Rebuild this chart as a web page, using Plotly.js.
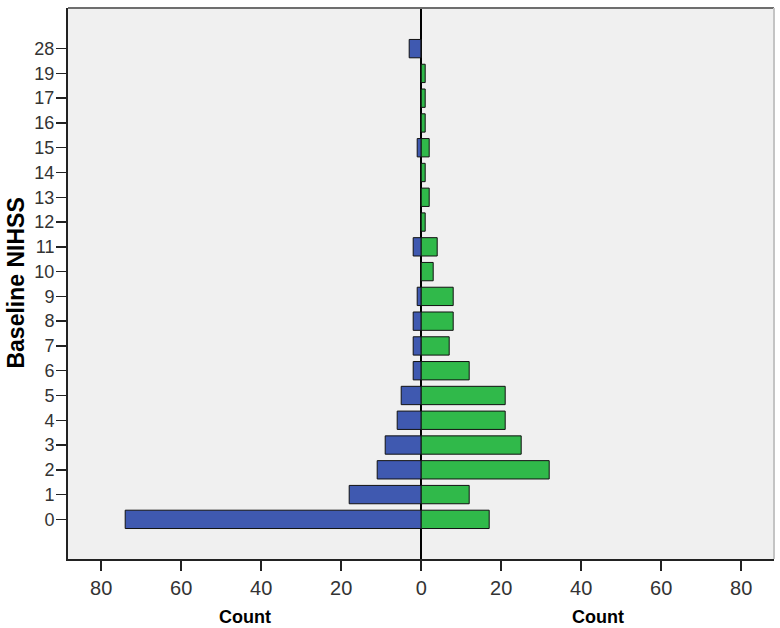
<!DOCTYPE html>
<html>
<head>
<meta charset="utf-8">
<script src="https://cdn.plot.ly/plotly-3.0.1.min.js"></script>
<style>
  body { margin: 0; background: #fff; }
  #chart { width: 780px; height: 628px; }
</style>
</head>
<body>
<div id="chart"></div>
<script>
// Baseline NIHSS categories, bottom to top
const nihss = ['0', '1', '2', '3', '4', '5', '6', '7', '8', '9', '10', '11', '12', '13', '14', '15', '16', '17', '19', '28'];
// counts for the left (blue) half
const leftCounts = [74, 18, 11, 9, 6, 5, 2, 2, 2, 1, 0, 2, 0, 0, 0, 1, 0, 0, 0, 3];
// counts for the right (green) half
const rightCounts = [17, 12, 32, 25, 21, 21, 12, 7, 8, 8, 3, 4, 1, 2, 1, 2, 1, 1, 1, 0];
// x tick labels (both halves show absolute counts)
const countTicks = [-80, -60, -40, -20, 0, 20, 40, 60, 80];
const countTickText = ['80', '60', '40', '20', '0', '20', '40', '60', '80'];

const barLine = { color: '#111', width: 1 };
const sans = 'Liberation Sans, Arial, sans-serif';

const data = [
    {
        type: 'bar',
        orientation: 'h',
        y: nihss,
        x: leftCounts.map(v => -v),
        width: 0.74,
        marker: { color: '#3f59b0', line: barLine },
        hoverinfo: 'skip'
    },
    {
        type: 'bar',
        orientation: 'h',
        y: nihss,
        x: rightCounts,
        width: 0.74,
        marker: { color: '#30b94a', line: barLine },
        hoverinfo: 'skip'
    }
];

const layout = {
    width: 780,
    height: 628,
    margin: { l: 68, r: 6, t: 8, b: 69 },
    paper_bgcolor: '#ffffff',
    plot_bgcolor: '#f0f0f0',
    barmode: 'overlay',
    showlegend: false,
    xaxis: {
        range: [-88.3, 88.2],
        tickvals: countTicks,
        ticktext: countTickText,
        ticks: 'outside',
        ticklen: 10,
        tickwidth: 1.5,
        tickcolor: '#222',
        tickfont: { family: sans, size: 20, color: '#333' },
        showgrid: false,
        zeroline: true,
        zerolinecolor: '#000',
        zerolinewidth: 1.5,
        showline: true,
        linecolor: '#222',
        linewidth: 2,
        layer: 'above traces',
        fixedrange: true
    },
    yaxis: {
        type: 'category',
        categoryorder: 'array',
        categoryarray: nihss,
        range: [-1.6, 20.64],
        ticks: 'outside',
        ticklen: 10,
        tickwidth: 1.5,
        tickcolor: '#222',
        tickfont: { family: sans, size: 18, color: '#333' },
        ticklabelstandoff: -2,
        showgrid: false,
        showline: true,
        linecolor: '#222',
        linewidth: 2,
        fixedrange: true
    },
    shapes: [
        // top and right frame lines
        { type: 'line', xref: 'paper', yref: 'paper', x0: 0, x1: 1, y0: 1, y1: 1,
          line: { color: '#6e6e6e', width: 2 } },
        { type: 'line', xref: 'paper', yref: 'paper', x0: 1, x1: 1, y0: 0, y1: 1,
          line: { color: '#c4c4c4', width: 2 } }
    ],
    annotations: [
        {
            text: '<b>Baseline NIHSS</b>',
            xref: 'paper', yref: 'paper',
            x: -0.075, y: 0.5,
            xanchor: 'center', yanchor: 'middle',
            textangle: -90,
            showarrow: false,
            font: { family: sans, size: 23, color: '#000' }
        },
        {
            text: '<b>Count</b>',
            xref: 'paper', yref: 'paper',
            x: 0.25, y: -0.105,
            xanchor: 'center', yanchor: 'middle',
            showarrow: false,
            font: { family: sans, size: 18, color: '#000' }
        },
        {
            text: '<b>Count</b>',
            xref: 'paper', yref: 'paper',
            x: 0.75, y: -0.105,
            xanchor: 'center', yanchor: 'middle',
            showarrow: false,
            font: { family: sans, size: 18, color: '#000' }
        }
    ]
};

const config = { displayModeBar: false, staticPlot: true };

Plotly.newPlot('chart', data, layout, config);
</script>
</body>
</html>
